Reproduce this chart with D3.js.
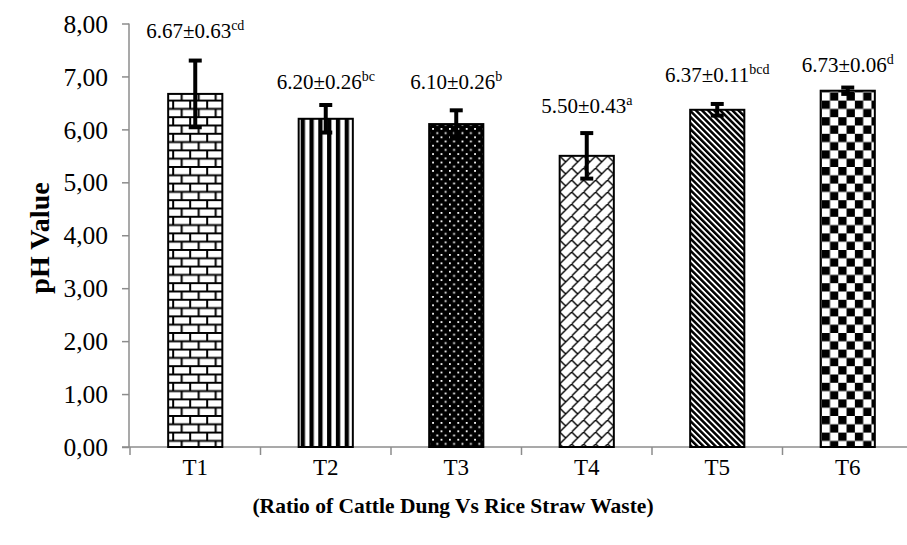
<!DOCTYPE html>
<html><head><meta charset="utf-8">
<script src="https://cdn.jsdelivr.net/npm/d3@7"></script>
<style>
html,body{margin:0;padding:0;background:#fff;}
svg text{font-family:"Liberation Serif","Times New Roman",serif;fill:#000;}
</style></head>
<body><svg id="c" width="907" height="545"></svg>
<script>
const categories = ["T1","T2","T3","T4","T5","T6"];
const means = [6.67, 6.20, 6.10, 5.50, 6.37, 6.73];
const errors = [0.63, 0.26, 0.26, 0.43, 0.11, 0.06];
const letters = ["cd","bc","b","a","bcd","d"];
const yTicks = [0,1,2,3,4,5,6,7,8];
const labelLevels = [7.72, 6.77, 6.77, 6.30, 6.89, 7.09];

const svg = d3.select("#c");
const x0 = 130, bandW = 130.5;
const x = d3.scaleBand().domain(categories).range([x0, x0 + bandW*categories.length]).paddingInner(0.585).paddingOuter(0.2925);
const y = d3.scaleLinear().domain([0,8]).range([447, 23.5]);

const defs = svg.append("defs");
// T1 brick
let p = defs.append("pattern").attr("id","p0").attr("patternUnits","userSpaceOnUse").attr("width",17).attr("height",16.6).attr("x", x("T1")+1).attr("y", 0);
p.append("rect").attr("width",17).attr("height",16.6).attr("fill","#fff");
p.append("path").attr("d","M0,1 H17 M0,9.3 H17 M4,1 V9.3 M12.5,9.3 V16.6").attr("stroke","#000").attr("stroke-width",2).attr("fill","none");
// T2 vertical stripes
p = defs.append("pattern").attr("id","p1").attr("patternUnits","userSpaceOnUse").attr("width",8.8).attr("height",10).attr("x", x("T2")+2);
p.append("rect").attr("width",8.8).attr("height",10).attr("fill","#fff");
p.append("rect").attr("x",0).attr("width",4.3).attr("height",10).attr("fill","#000");
// T3 black with white dots
p = defs.append("pattern").attr("id","p2").attr("patternUnits","userSpaceOnUse").attr("width",8.4).attr("height",8.4).attr("x", x("T3")+3).attr("y",2);
p.append("rect").attr("width",8.4).attr("height",8.4).attr("fill","#000");
p.append("rect").attr("x",0).attr("y",0).attr("width",1.8).attr("height",1.8).attr("fill","#fff");
p.append("rect").attr("x",4.2).attr("y",4.2).attr("width",1.8).attr("height",1.8).attr("fill","#fff");
// T4 diagonal brick
p = defs.append("pattern").attr("id","p3").attr("patternUnits","userSpaceOnUse").attr("width",12).attr("height",12).attr("x", x("T4"));
p.append("rect").attr("width",12).attr("height",12).attr("fill","#fff");
p.append("path").attr("d","M-1,13 L13,-1 M0,0 L6,6").attr("stroke","#000").attr("stroke-width",1.4).attr("fill","none");
// T5 wide downward diagonal
p = defs.append("pattern").attr("id","p4").attr("patternUnits","userSpaceOnUse").attr("width",4.3).attr("height",10).attr("patternTransform","rotate(-45)");
p.append("rect").attr("width",4.3).attr("height",10).attr("fill","#fff");
p.append("rect").attr("width",2.5).attr("height",10).attr("fill","#000");
// T6 checkerboard
p = defs.append("pattern").attr("id","p5").attr("patternUnits","userSpaceOnUse").attr("width",16.6).attr("height",16.6).attr("x", x("T6")+1).attr("y",1);
p.append("rect").attr("width",16.6).attr("height",16.6).attr("fill","#fff");
p.append("rect").attr("x",0).attr("y",0).attr("width",8.3).attr("height",8.3).attr("fill","#000");
p.append("rect").attr("x",8.3).attr("y",8.3).attr("width",8.3).attr("height",8.3).attr("fill","#000");

// axes
const axisColor = "#8c8c8c";
const yAxis = svg.append("g").attr("transform","translate(129,0)")
  .call(d3.axisLeft(y).tickValues(yTicks).tickSize(7).tickPadding(14).tickFormat(d => d3.format(".2f")(d).replace(".", ",")));
yAxis.select(".domain").attr("stroke",axisColor).attr("stroke-width",1.5).attr("d","M0,"+y(8)+"V"+y(0));
yAxis.selectAll(".tick line").attr("stroke",axisColor).attr("stroke-width",1.5);
yAxis.selectAll(".tick text").attr("font-size",25.5).attr("dy","0.34em");

const xAxisG = svg.append("g").attr("transform","translate(0,447)");
xAxisG.append("line").attr("x1",122).attr("x2",907).attr("y1",0).attr("y2",0).attr("stroke",axisColor).attr("stroke-width",1.5);
const bounds = d3.range(categories.length+1).map(i => x0 + i*bandW);
xAxisG.selectAll("line.tk").data(bounds).join("line").attr("class","tk")
  .attr("x1",d=>d).attr("x2",d=>d).attr("y1",0).attr("y2",8).attr("stroke",axisColor).attr("stroke-width",1.5);
xAxisG.selectAll("text").data(categories).join("text")
  .attr("x", d => x(d) + x.bandwidth()/2).attr("y", 28).attr("text-anchor","middle").attr("font-size",23).text(d=>d);

// bars
svg.append("g").selectAll("rect").data(categories).join("rect")
  .attr("x", d => x(d)).attr("width", x.bandwidth())
  .attr("y", (d,i) => y(means[i])).attr("height", (d,i) => y(0) - y(means[i]))
  .attr("fill", (d,i) => "url(#p"+i+")").attr("stroke","#000").attr("stroke-width",2);

// error bars
const eg = svg.append("g");
categories.forEach((c,i) => {
  const cx = x(c) + x.bandwidth()/2;
  eg.append("line").attr("x1",cx).attr("x2",cx).attr("y1",y(means[i]-errors[i])).attr("y2",y(means[i]+errors[i])).attr("stroke","#000").attr("stroke-width",4);
  [means[i]-errors[i], means[i]+errors[i]].forEach(v => {
    eg.append("line").attr("x1",cx-6.5).attr("x2",cx+6.5).attr("y1",y(v)).attr("y2",y(v)).attr("stroke","#000").attr("stroke-width",4);
  });
});

// value labels
const lg = svg.append("g");
categories.forEach((c,i) => {
  const t = lg.append("text").attr("x", x(c) + x.bandwidth()/2).attr("y", y(labelLevels[i])).attr("text-anchor","middle").attr("font-size",21);
  t.append("tspan").text(d3.format(".2f")(means[i]) + "±" + d3.format(".2f")(errors[i]));
  t.append("tspan").attr("font-size",14).attr("dy",-8).text(letters[i]);
});

// titles
svg.append("text").attr("transform","translate(49,238) rotate(-90)").attr("text-anchor","middle")
  .attr("font-size",28).attr("font-weight","bold").text("pH Value");
svg.append("text").attr("x",453).attr("y",513).attr("text-anchor","middle")
  .attr("font-size",21.5).attr("font-weight","bold").text("(Ratio of Cattle Dung Vs Rice Straw Waste)");
</script></body></html>
